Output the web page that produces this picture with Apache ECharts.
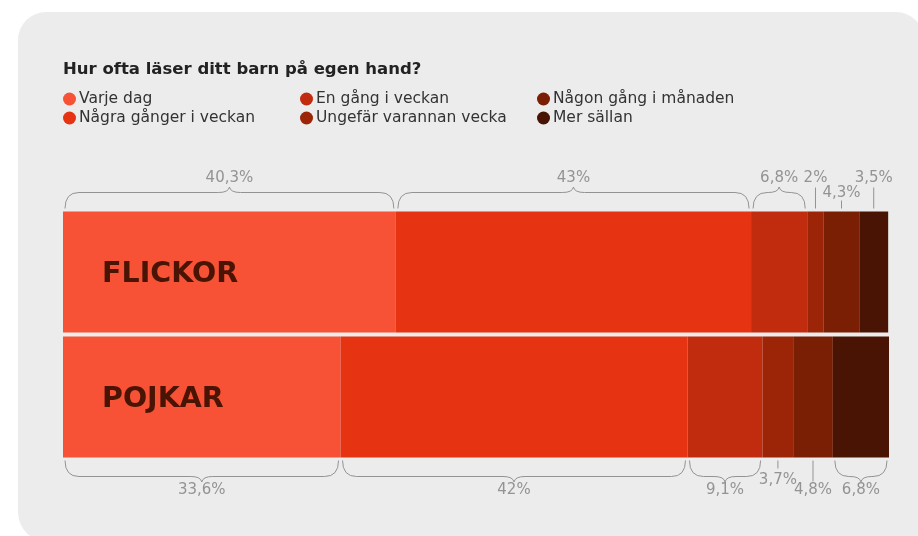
<!DOCTYPE html>
<html>
<head>
<meta charset="utf-8">
<script src="https://cdn.jsdelivr.net/npm/echarts@6/dist/echarts.min.js"></script>
<style>
  html, body { margin: 0; padding: 0; background: #fff; }
  #chart { width: 918px; height: 536px; }
</style>
</head>
<body>
<div id="chart"></div>
<script>
var categories = ['FLICKOR', 'POJKAR']
var seriesNames = ['Varje dag', 'Några gånger i veckan', 'En gång i veckan', 'Ungefär varannan vecka', 'Någon gång i månaden', 'Mer sällan']
var varjeDag = [40.3, 33.6]
var nagraGanger = [43, 42]
var enGang = [6.8, 9.1]
var varannanVecka = [2, 3.7]
var manaden = [4.3, 4.8]
var merSallan = [3.5, 6.8]

var values = [varjeDag, nagraGanger, enGang, varannanVecka, manaden, merSallan]
var colors = ['#f75236', '#e63312', '#c22c0e', '#9c2407', '#7a1e04', '#4a1404']
var FONT = 'DejaVu Sans'
var BAR_W = 121
var GREY = '#939393'

// ticks that sit closer to the bar (category-series)
var shortTicks = { '0-4': true, '1-3': true }

// segments for braces / ticks, built from the values
var segData = []
categories.forEach(function (c, ci) {
  var acc = 0
  values.forEach(function (arr, si) {
    segData.push([acc, ci, acc + arr[ci], arr[ci], si])
    acc += arr[ci]
  })
})

function fmt(v) {
  return String(v).replace('.', ',') + '%'
}

function renderSeg(params, api) {
  var start = api.value(0)
  var ci = api.value(1)
  var end = api.value(2)
  var v = api.value(3)
  var si = api.value(4)
  var p0 = api.coord([start, ci])
  var p1 = api.coord([end, ci])
  var dir = ci === 0 ? -1 : 1
  var edge = p0[1] + dir * BAR_W / 2
  var children = []
  var labelY
  var xm
  if (v >= 5) {
    var x1 = p0[0] + 2
    var x2 = p1[0] - 2
    xm = (x1 + x2) / 2
    var yb = edge + dir * 3
    var yl = edge + dir * 19
    var yt = edge + dir * 24.5
    var r = 14
    var pw = 11
    var d = 'M' + x1 + ' ' + yb +
      ' Q' + x1 + ' ' + yl + ' ' + (x1 + r) + ' ' + yl +
      ' L' + (xm - pw) + ' ' + yl +
      ' Q' + (xm - 1) + ' ' + yl + ' ' + xm + ' ' + yt +
      ' Q' + (xm + 1) + ' ' + yl + ' ' + (xm + pw) + ' ' + yl +
      ' L' + (x2 - r) + ' ' + yl +
      ' Q' + x2 + ' ' + yl + ' ' + x2 + ' ' + yb
    children.push({
      type: 'path',
      shape: { pathData: d },
      style: { stroke: GREY, lineWidth: 1, fill: null }
    })
    labelY = edge + dir * 33
  } else {
    xm = (p0[0] + p1[0]) / 2
    var short = shortTicks[ci + '-' + si]
    var len = short ? 11 : 24
    children.push({
      type: 'line',
      shape: { x1: xm, y1: edge + dir * 3, x2: xm, y2: edge + dir * len },
      style: { stroke: GREY, lineWidth: 1 }
    })
    labelY = short ? edge + dir * (ci === 0 ? 18 : 23) : edge + dir * 33
  }
  children.push({
    type: 'text',
    x: xm,
    y: labelY,
    style: {
      text: fmt(v),
      fill: GREY,
      fontSize: 15,
      fontFamily: FONT,
      align: 'center',
      verticalAlign: 'middle'
    }
  })
  return { type: 'group', children: children }
}

var chart = echarts.init(document.getElementById('chart'))

var series = seriesNames.map(function (name, i) {
  var s = {
    name: name,
    type: 'bar',
    stack: 'total',
    barWidth: BAR_W,
    data: values[i],
    itemStyle: { color: colors[i] },
    emphasis: { disabled: true }
  }
  if (i === 0) {
    s.label = {
      show: true,
      position: 'insideLeft',
      distance: 39,
      offset: [0, 3],
      formatter: '{b}',
      color: '#4a1404',
      fontSize: 28.5,
      fontWeight: 'bold',
      fontFamily: FONT
    }
  }
  return s
})

series.push({
  type: 'custom',
  silent: true,
  clip: false,
  data: segData,
  encode: { x: [0, 2], y: 1 },
  renderItem: renderSeg
})

function legend(names, left) {
  return {
    data: names,
    left: left,
    top: 86,
    orient: 'vertical',
    icon: 'circle',
    itemWidth: 13,
    itemHeight: 13,
    itemGap: 3,
    selectedMode: false,
    textStyle: { fontSize: 15.5, color: '#333', fontFamily: FONT, padding: [0, 0, 0, -2] }
  }
}

chart.setOption({
  animation: false,
  textStyle: { fontFamily: FONT },
  graphic: [{
    type: 'rect',
    left: 18,
    top: 12,
    z: -10,
    shape: { width: 906, height: 530, r: [28, 28, 0, 30] },
    style: { fill: '#ececec' }
  }],
  title: {
    text: 'Hur ofta läser ditt barn på egen hand?',
    left: 58,
    top: 56,
    textStyle: { fontSize: 16.5, fontWeight: 'bold', color: '#222', fontFamily: FONT }
  },
  legend: [
    legend(seriesNames.slice(0, 2), 58),
    legend(seriesNames.slice(2, 4), 295),
    legend(seriesNames.slice(4, 6), 532)
  ],
  grid: { left: 63, right: 29, top: 209.5, height: 250 },
  xAxis: { type: 'value', min: 0, max: 100, show: false },
  yAxis: { type: 'category', data: categories, inverse: true, show: false },
  series: series
})
</script>
</body>
</html>
